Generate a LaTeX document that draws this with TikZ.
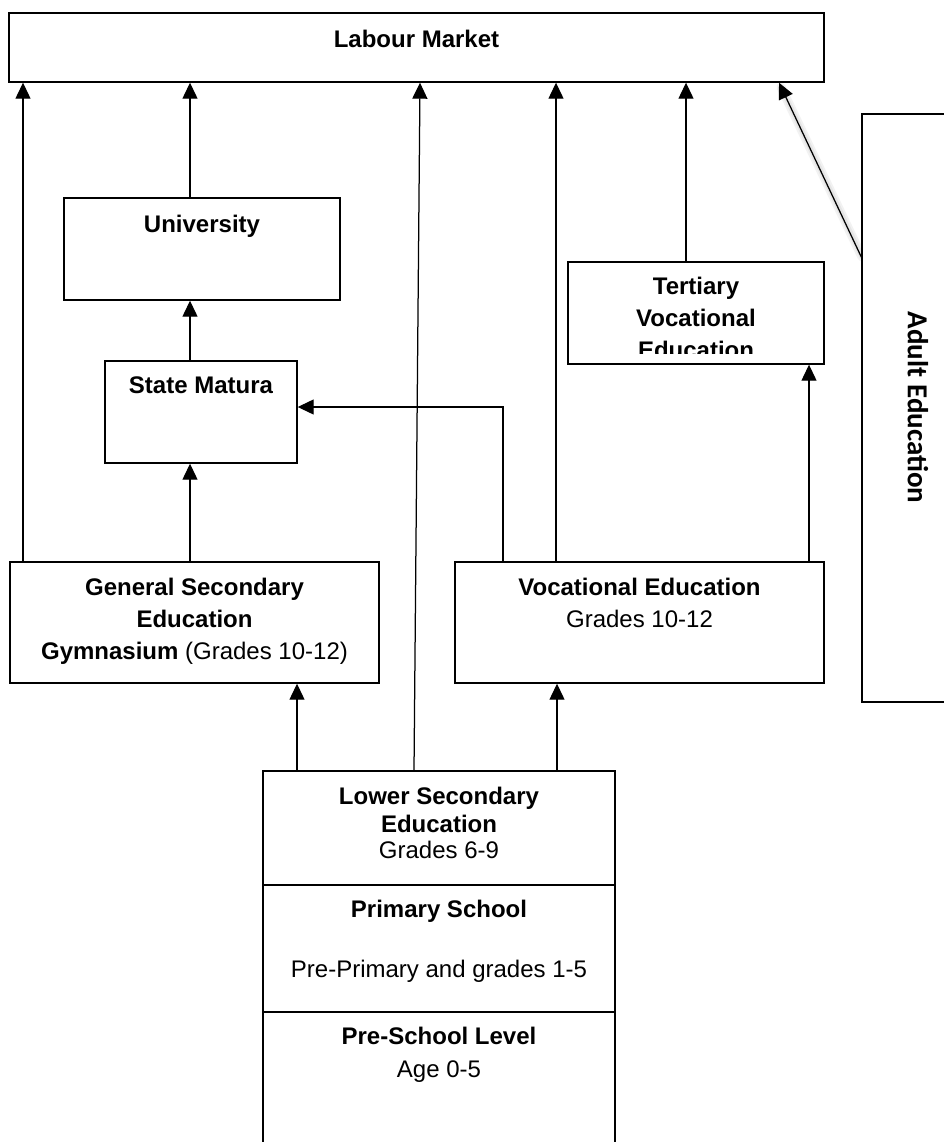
\documentclass[tikz,border=0pt]{standalone}
\usepackage{fontspec}
\setmainfont{Liberation Sans}
\newfontfamily\adultfont{Carlito}
\usetikzlibrary{arrows.meta}
\begin{document}
\begin{tikzpicture}[x=1pt,y=-1pt,
  box/.style={draw, line width=1.4pt, inner sep=0pt},
  txt/.style={anchor=base, inner sep=0pt, font=\fontsize{24}{28}\selectfont},
  ttl/.style={anchor=base, inner sep=0pt, font=\fontsize{24}{28}\selectfont\bfseries},
  link/.style={line width=1.25pt, -{Triangle[length=16pt,width=15pt]}},
  haze/.style={line cap=round}]
\useasboundingbox (0,0) rectangle (944,1142);
\fill[white] (0,0) rectangle (944,1142);
\clip (0,0) rectangle (944,1142);

% soft glow along the adult-education link, laid under everything
\draw[haze, line width=9pt, black!5] (862,257) -- (781,87);
\draw[haze, line width=5pt, black!10] (862,257) -- (781,87);

% boxes
\node[box, minimum width=815pt, minimum height=69pt]  (labour) at (416.5,47.5) {};
\node[box, minimum width=276pt, minimum height=102pt] (uni)    at (202,249) {};
\node[box, minimum width=192pt, minimum height=102pt] (matura) at (201,412) {};
\node[box, minimum width=256pt, minimum height=102pt] (tert)   at (696,313) {};
\node[box, fill=white, minimum width=112pt, minimum height=588pt] (adult)  at (918,408) {};
\node[box, minimum width=369pt, minimum height=121pt] (gensec) at (194.5,622.5) {};
\node[box, minimum width=369pt, minimum height=121pt] (voc)    at (639.5,622.5) {};
\node[box, minimum width=352pt, minimum height=114pt] (lower)  at (439,828) {};
\node[box, minimum width=352pt, minimum height=127pt] (primary) at (439,948.5) {};
\node[box, minimum width=352pt, minimum height=148pt] (preschool) at (439,1086) {};

% columns used by the connectors
\coordinate (xa) at (23,0);
\coordinate (xb) at (190,0);
\coordinate (xc) at (503,0);
\coordinate (xd) at (556,0);
\coordinate (xe) at (809,0);
\coordinate (xf) at (686,0);
\coordinate (xg) at (297,0);
\coordinate (xh) at (557,0);
\coordinate (xi) at (414,0);
\coordinate (xj) at (420,0);
\coordinate (xk) at (779,0);

% texts
\node[ttl] (labourT) at (416.5,48) {Labour Market};
\node[ttl] (uniT) at (202,232) {University};
\node[ttl] (maturaT) at (201,393) {State Matura};
\begin{scope}
  \clip (tert.north west) rectangle ([yshift=11pt]tert.south east);
  \node[ttl] (tertA) at (696,294) {Tertiary};
  \node[ttl] (tertB) at (696,326) {Vocational};
  \node[ttl] (tertC) at (696,358) {Education};
\end{scope}
\node[ttl] (gensecA) at (194.5,595) {General Secondary};
\node[ttl] (gensecB) at (194.5,627) {Education};
\node[txt] (gensecC) at (194.5,659) {\textbf{Gymnasium} (Grades 10-12)};
\node[ttl] (vocA) at (639.5,595) {Vocational Education};
\node[txt] (vocB) at (639.5,627) {Grades 10-12};
\node[ttl] (lowerA) at (439,804) {Lower Secondary};
\node[ttl] (lowerB) at (439,832) {Education};
\node[txt] (lowerC) at (439,858) {Grades 6-9};
\node[ttl] (primaryA) at (439,917) {Primary School};
\node[txt] (primaryB) at (439,977) {Pre-Primary and grades 1-5};
\node[ttl] (preA) at (439,1044) {Pre-School Level};
\node[txt] (preB) at (439,1077) {Age 0-5};
\node[rotate=-90, inner sep=0pt, font=\adultfont\fontsize{29}{34}\selectfont\bfseries] (adultT) at (918,407.5) {Adult Education};

% connectors
\draw[link] (gensec.north -| xa) -- (labour.south -| xa);
\draw[link] (gensec.north -| xb) -- (matura.south -| xb);
\draw[link] (matura.north -| xb) -- (uni.south -| xb);
\draw[link] (uni.north -| xb) -- (labour.south -| xb);
\draw[link] (voc.north -| xc) |- ([yshift=5pt]matura.east);
\draw[link] (voc.north -| xd) -- (labour.south -| xd);
\draw[link] (voc.north -| xe) -- (tert.south -| xe);
\draw[link] (tert.north -| xf) -- (labour.south -| xf);
\draw[link] (lower.north -| xg) -- (gensec.south -| xg);
\draw[link] (lower.north -| xh) -- (voc.south -| xh);
\draw[link] (lower.north -| xi) -- (labour.south -| xj);
\draw[link] ([yshift=151pt]adult.west) -- (labour.south -| xk);
\end{tikzpicture}
\end{document}
